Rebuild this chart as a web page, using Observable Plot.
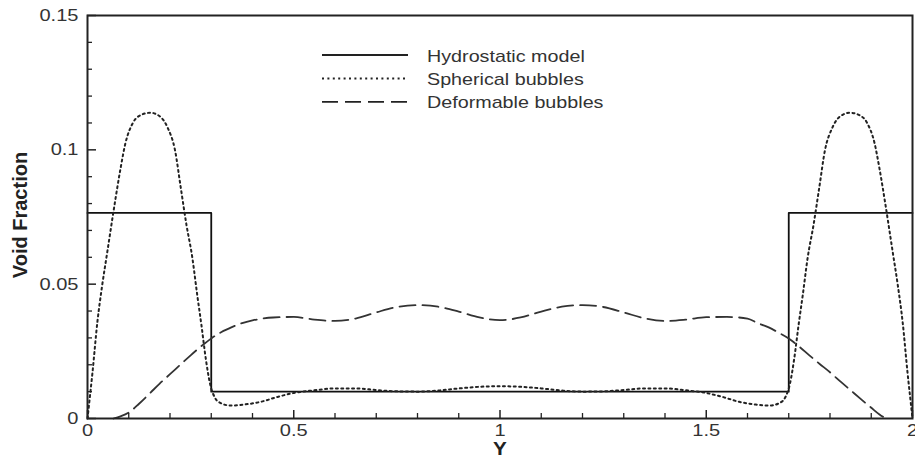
<!DOCTYPE html>
<html>
<head>
<meta charset="utf-8">
<script src="https://cdn.jsdelivr.net/npm/d3@7"></script>
<script src="https://cdn.jsdelivr.net/npm/@observablehq/plot@0.6"></script>
<style>
  html, body { margin: 0; padding: 0; background: #fff; }
  #chart svg { display: block; overflow: visible; }
</style>
</head>
<body>
<div id="chart"></div>
<script>
// ---- data ----
const hydroY = [0, 0.3, 0.3, 1.7, 1.7, 2];
const hydroV = [0.0765, 0.0765, 0.01, 0.01, 0.0765, 0.0765];

const sphY = [0, 0.005, 0.012, 0.024, 0.036, 0.048, 0.066, 0.080, 0.092, 0.110, 0.130, 0.152, 0.175, 0.195, 0.212, 0.226, 0.240, 0.254, 0.266, 0.276, 0.287, 0.297, 0.308, 0.322, 0.347, 0.38, 0.42, 0.46, 0.50, 0.55, 0.60, 0.65, 0.70, 0.75, 0.80, 0.85, 0.90, 0.95, 1.00,
  1.05, 1.10, 1.15, 1.20, 1.25, 1.30, 1.35, 1.40, 1.45, 1.50, 1.54, 1.58, 1.62, 1.653, 1.678, 1.692, 1.703, 1.713, 1.724, 1.734, 1.746, 1.760, 1.774, 1.788, 1.805, 1.825, 1.848, 1.870, 1.890, 1.908, 1.920, 1.934, 1.952, 1.964, 1.976, 1.988, 1.995, 2.0];
const sphV = [0, 0.007, 0.017, 0.036, 0.050, 0.062, 0.080, 0.093, 0.1025, 0.110, 0.113, 0.1138, 0.1125, 0.108, 0.100, 0.086, 0.072, 0.060, 0.046, 0.035, 0.022, 0.013, 0.008, 0.0058, 0.0048, 0.0052, 0.0062, 0.0080, 0.0095, 0.0105, 0.0112, 0.0112, 0.0106, 0.0101, 0.0100, 0.0104, 0.0112, 0.0118, 0.0120,
  0.0118, 0.0112, 0.0104, 0.0100, 0.0101, 0.0106, 0.0112, 0.0112, 0.0105, 0.0095, 0.0080, 0.0062, 0.0052, 0.0048, 0.0058, 0.008, 0.013, 0.022, 0.035, 0.046, 0.060, 0.072, 0.086, 0.100, 0.108, 0.1125, 0.1138, 0.113, 0.110, 0.1025, 0.093, 0.080, 0.062, 0.050, 0.036, 0.017, 0.007, 0];

const defY = [0.063, 0.08, 0.10, 0.125, 0.15, 0.175, 0.20, 0.225, 0.25, 0.275, 0.30, 0.325, 0.35, 0.375, 0.40, 0.45, 0.50, 0.55, 0.60, 0.65, 0.70, 0.75, 0.80, 0.85, 0.90, 0.95, 1.00,
  1.05, 1.10, 1.15, 1.20, 1.25, 1.30, 1.35, 1.40, 1.45, 1.50, 1.55, 1.60, 1.625, 1.65, 1.675, 1.70, 1.725, 1.75, 1.775, 1.80, 1.825, 1.85, 1.875, 1.90, 1.92, 1.935];
const defV = [0, 0.0008, 0.0022, 0.0055, 0.0092, 0.013, 0.0165, 0.0200, 0.0235, 0.0268, 0.0298, 0.0322, 0.0340, 0.0355, 0.0365, 0.0376, 0.0378, 0.0368, 0.0363, 0.0372, 0.0395, 0.0415, 0.0422, 0.0416, 0.0398, 0.0376, 0.0366,
  0.0376, 0.0398, 0.0416, 0.0422, 0.0415, 0.0395, 0.0373, 0.0363, 0.0368, 0.0377, 0.0378, 0.0372, 0.0355, 0.0340, 0.0320, 0.0298, 0.0268, 0.0235, 0.0203, 0.0172, 0.0138, 0.0105, 0.0072, 0.0040, 0.0015, 0];

const xMajor = [0, 0.5, 1, 1.5, 2];
const xMinor = [0.1, 0.2, 0.3, 0.4, 0.6, 0.7, 0.8, 0.9, 1.1, 1.2, 1.3, 1.4, 1.6, 1.7, 1.8, 1.9];
const yMajor = [0, 0.05, 0.1, 0.15];
const yMinor = [0.01, 0.02, 0.03, 0.04, 0.06, 0.07, 0.08, 0.09, 0.11, 0.12, 0.13, 0.14];
const xLabels = ["0", "0.5", "1", "1.5", "2"];
const yLabels = ["0", "0.05", "0.1", "0.15"];
const seriesNames = ["Hydrostatic model", "Spherical bubbles", "Deformable bubbles"];

const hydro = hydroY.map((y, i) => ({Y: y, v: hydroV[i]}));
const sph = sphY.map((y, i) => ({Y: y, v: sphV[i]}));
const def = defY.map((y, i) => ({Y: y, v: defV[i]}));

const FONT = '"Liberation Sans", Arial, Helvetica, sans-serif';
const INK = "#222";

const chart = Plot.plot({
  width: 915,
  height: 459,
  marginLeft: 87,
  marginRight: 3,
  marginTop: 15,
  marginBottom: 41,
  style: {fontFamily: FONT, fontSize: "17px", color: "#333", background: "#fff"},
  x: {domain: [0, 2]},
  y: {domain: [0, 0.15]},
  marks: [
    Plot.line(hydro, {x: "Y", y: "v", stroke: "#111", strokeWidth: 1.8}),
    Plot.line(sph, {x: "Y", y: "v", curve: "monotone-x", stroke: "#222", strokeWidth: 2, strokeDasharray: "2,3.4"}),
    Plot.line(def, {x: "Y", y: "v", curve: "monotone-x", stroke: "#333", strokeWidth: 1.8, strokeDasharray: "16,7"}),
    Plot.axisX({ticks: xMinor, tickSize: -5, text: null, stroke: INK, strokeWidth: 1.3, label: null}),
    Plot.axisX({ticks: xMajor, tickSize: -8, tickPadding: 13, tickFormat: (d, i) => xLabels[i], stroke: INK, strokeWidth: 1.5, fill: "#333", label: null}),
    Plot.axisY({ticks: yMinor, tickSize: -5, text: null, stroke: INK, strokeWidth: 1.3, label: null}),
    Plot.axisY({ticks: yMajor, tickSize: -9, tickPadding: 18, tickFormat: (d, i) => yLabels[i], stroke: INK, strokeWidth: 1.5, fill: "#333", label: null}),
    Plot.frame({stroke: INK, strokeWidth: 2})
  ]
});

document.getElementById("chart").appendChild(chart);

const svg = d3.select(chart);
// widen tick labels horizontally to match the reference typeface
svg.selectAll("g[aria-label$='tick label'] text").each(function() {
  const t = this.getAttribute("transform") || "";
  this.setAttribute("transform", t + " scale(1.18,1)");
});

// axis titles
svg.append("text")
  .attr("transform", "translate(27,215) rotate(-90)")
  .attr("text-anchor", "middle")
  .attr("font-family", FONT).attr("font-weight", "bold").attr("font-size", 20)
  .attr("fill", "#222")
  .text("Void Fraction");
svg.append("text")
  .attr("transform", "translate(500,455) scale(1.15,1)")
  .attr("text-anchor", "middle")
  .attr("font-family", FONT).attr("font-weight", "bold").attr("font-size", 18)
  .attr("fill", "#222")
  .text("Y");

// legend
const styles = [
  {dash: null, width: 1.8},
  {dash: "2,3.4", width: 2},
  {dash: "16,7", width: 1.8}
];
const leg = svg.append("g").attr("aria-label", "legend").attr("text-anchor", "start");
seriesNames.forEach((name, i) => {
  const y = 55 + i * 23.4;
  leg.append("line")
    .attr("x1", 322).attr("x2", 408).attr("y1", y).attr("y2", y)
    .attr("stroke", "#222").attr("stroke-width", styles[i].width)
    .attr("stroke-dasharray", styles[i].dash);
  leg.append("text")
    .attr("transform", `translate(427,${y + 6.5}) scale(1.16,1)`)
    .attr("text-anchor", "start")
    .attr("font-family", FONT).attr("font-size", 17).attr("fill", "#333")
    .text(name);
});
</script>
</body>
</html>
